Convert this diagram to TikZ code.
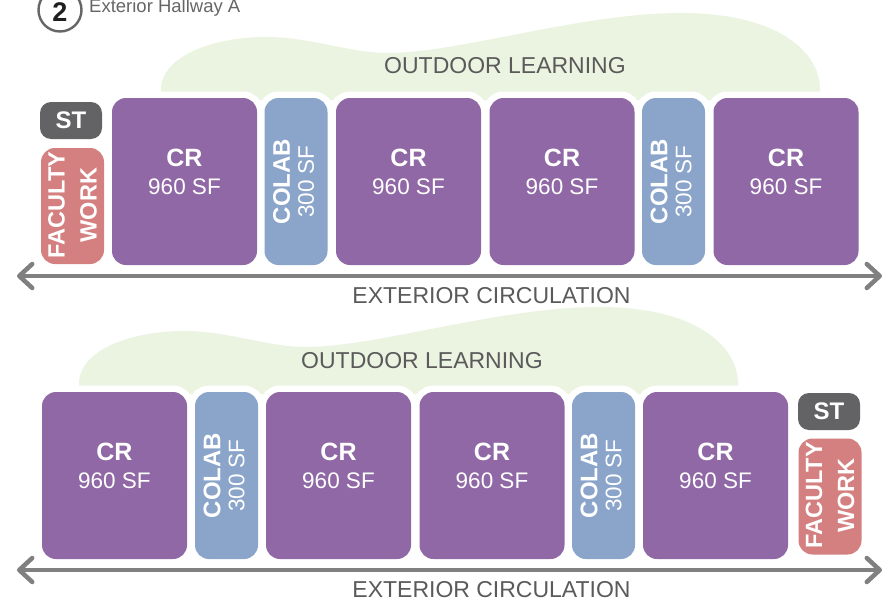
\documentclass[tikz,border=0pt]{standalone}
\usepackage{fontspec}
\setmainfont{Liberation Sans}
\usetikzlibrary{arrows.meta,calc}
\definecolor{crpurple}{HTML}{8F68A5}
\definecolor{colabblue}{HTML}{8AA4CA}
\definecolor{facpink}{HTML}{D48081}
\definecolor{stgray}{HTML}{636365}
\definecolor{cloudgreen}{HTML}{EBF3E1}
\definecolor{arrowgray}{HTML}{808080}
\definecolor{labelgray}{HTML}{5A5A5A}
\definecolor{headgray}{HTML}{666666}
\tikzset{
  whiteedge/.style={preaction={draw=white,line width=13pt}},
  crbox/.style={rectangle, inner sep=0pt, fill=crpurple, rounded corners=14pt,
    minimum width=145pt, minimum height=167pt, whiteedge},
  colabbox/.style={rectangle, inner sep=0pt, fill=colabblue, rounded corners=14pt,
    minimum width=63pt, minimum height=167pt, whiteedge},
  stbox/.style={rectangle, inner sep=0pt, fill=stgray, rounded corners=11pt,
    minimum width=62pt, minimum height=37pt, text=white,
    font=\bfseries\fontsize{24}{28}\selectfont},
  facbox/.style={rectangle, inner sep=0pt, fill=facpink, rounded corners=14pt,
    minimum width=63pt, minimum height=116pt},
  crlab/.style={text=white, inner sep=0pt, anchor=base,
    font=\bfseries\fontsize{25}{30}\selectfont},
  sflab/.style={text=white, inner sep=0pt, anchor=base,
    font=\fontsize{22.5}{27}\selectfont},
  colablab/.style={text=white, inner sep=0pt, rotate=90, align=center,
    font=\fontsize{22.5}{24}\selectfont},
  faclab/.style={text=white, inner sep=0pt, rotate=90, align=center,
    font=\bfseries\fontsize{23.5}{32}\selectfont},
  arealab/.style={text=labelgray, inner sep=0pt, anchor=base,
    font=\fontsize{23}{28}\selectfont},
  circ/.style={draw=arrowgray, line width=4.5pt,
    {Straight Barb[length=13pt,width=24pt,round]}-{Straight Barb[length=13pt,width=24pt,round]}},
  cloud/.pic={
    \fill[cloudgreen] (161,100) -- (161,88)
      .. controls (163,55) and (215,37) .. (266,37)
      .. controls (310,37) and (350,53) .. (387,53)
      .. controls (460,53) and (580,13) .. (681,13)
      .. controls (775,13) and (820,50) .. (820,90)
      -- (820,100) -- cycle;
  }
}
\begin{document}
\begin{tikzpicture}[x=1pt,y=-1pt]
\useasboundingbox (0,0) rectangle (893,602);
\fill[white] (0,0) rectangle (893,602);

% header
\node[circle, draw=headgray, line width=2.4pt, minimum size=43pt, inner sep=0pt] (hc) at (60,10) {};
\node[inner sep=0pt, anchor=base, font=\bfseries\fontsize{27}{30}\selectfont, text=black!88] (hn) at (60,21.5) {2};
\node[inner sep=0pt, anchor=base west, font=\fontsize{18.5}{21}\selectfont, text=headgray] (ht) at (89,13) {Exterior Hallway A};

% ---------- top row ----------
\pic at (0,0) {cloud};
\node[arealab] (ol1) at (505,74) {OUTDOOR LEARNING};

\node[crbox] (t1) at (184.5,181.5) {};
\node[colabbox] (t2) at (296,181.5) {};
\node[crbox] (t3) at (408.5,181.5) {};
\node[crbox] (t4) at (562,181.5) {};
\node[colabbox] (t5) at (673.5,181.5) {};
\node[crbox] (t6) at (786,181.5) {};
\node[stbox] (tst) at (71,120.5) {ST};
\node[facbox] (tfw) at (72.5,206) {};

\foreach \b in {t1,t3,t4,t6}{
  \node[crlab] (\b cr) at ($(\b.north)+(0,69)$) {CR};
  \node[sflab] (\b sf) at ($(\b.north)+(0,97)$) {960 SF};
}
\foreach \b in {t2,t5}{
  \node[colablab] (\b lab) at ($(\b.center)+(-2.5,0)$) {{\bfseries\fontsize{24}{24}\selectfont COLAB}\\300 SF};
}
\node[faclab] (tfwlab) at ($(tfw.center)+(0,-1)$) {FACULTY\\WORK};

\coordinate (tal) at (17,276);
\coordinate (tar) at (882,276);
\draw[circ] (tal) -- (tar);
\node[arealab] (ec1) at (491.5,303) {EXTERIOR CIRCULATION};

% ---------- bottom row ----------
\pic at (-82,294) {cloud};
\node[arealab] (ol2) at (422,368) {OUTDOOR LEARNING};

\node[crbox] (b1) at (114.5,475.5) {};
\node[colabbox] (b2) at (226.5,475.5) {};
\node[crbox] (b3) at (338.5,475.5) {};
\node[crbox] (b4) at (492,475.5) {};
\node[colabbox] (b5) at (603.5,475.5) {};
\node[crbox] (b6) at (715.5,475.5) {};
\node[stbox] (bst) at (829,411.5) {ST};
\node[facbox] (bfw) at (830,496.5) {};

\foreach \b in {b1,b3,b4,b6}{
  \node[crlab] (\b cr) at ($(\b.north)+(0,69)$) {CR};
  \node[sflab] (\b sf) at ($(\b.north)+(0,97)$) {960 SF};
}
\foreach \b in {b2,b5}{
  \node[colablab] (\b lab) at ($(\b.center)+(-2.5,0)$) {{\bfseries\fontsize{24}{24}\selectfont COLAB}\\300 SF};
}
\node[faclab] (bfwlab) at ($(bfw.center)+(0,-1)$) {FACULTY\\WORK};

\coordinate (bal) at (17,570);
\coordinate (bar) at (882,570);
\draw[circ] (bal) -- (bar);
\node[arealab] (ec2) at (491.5,597) {EXTERIOR CIRCULATION};
\end{tikzpicture}
\end{document}
